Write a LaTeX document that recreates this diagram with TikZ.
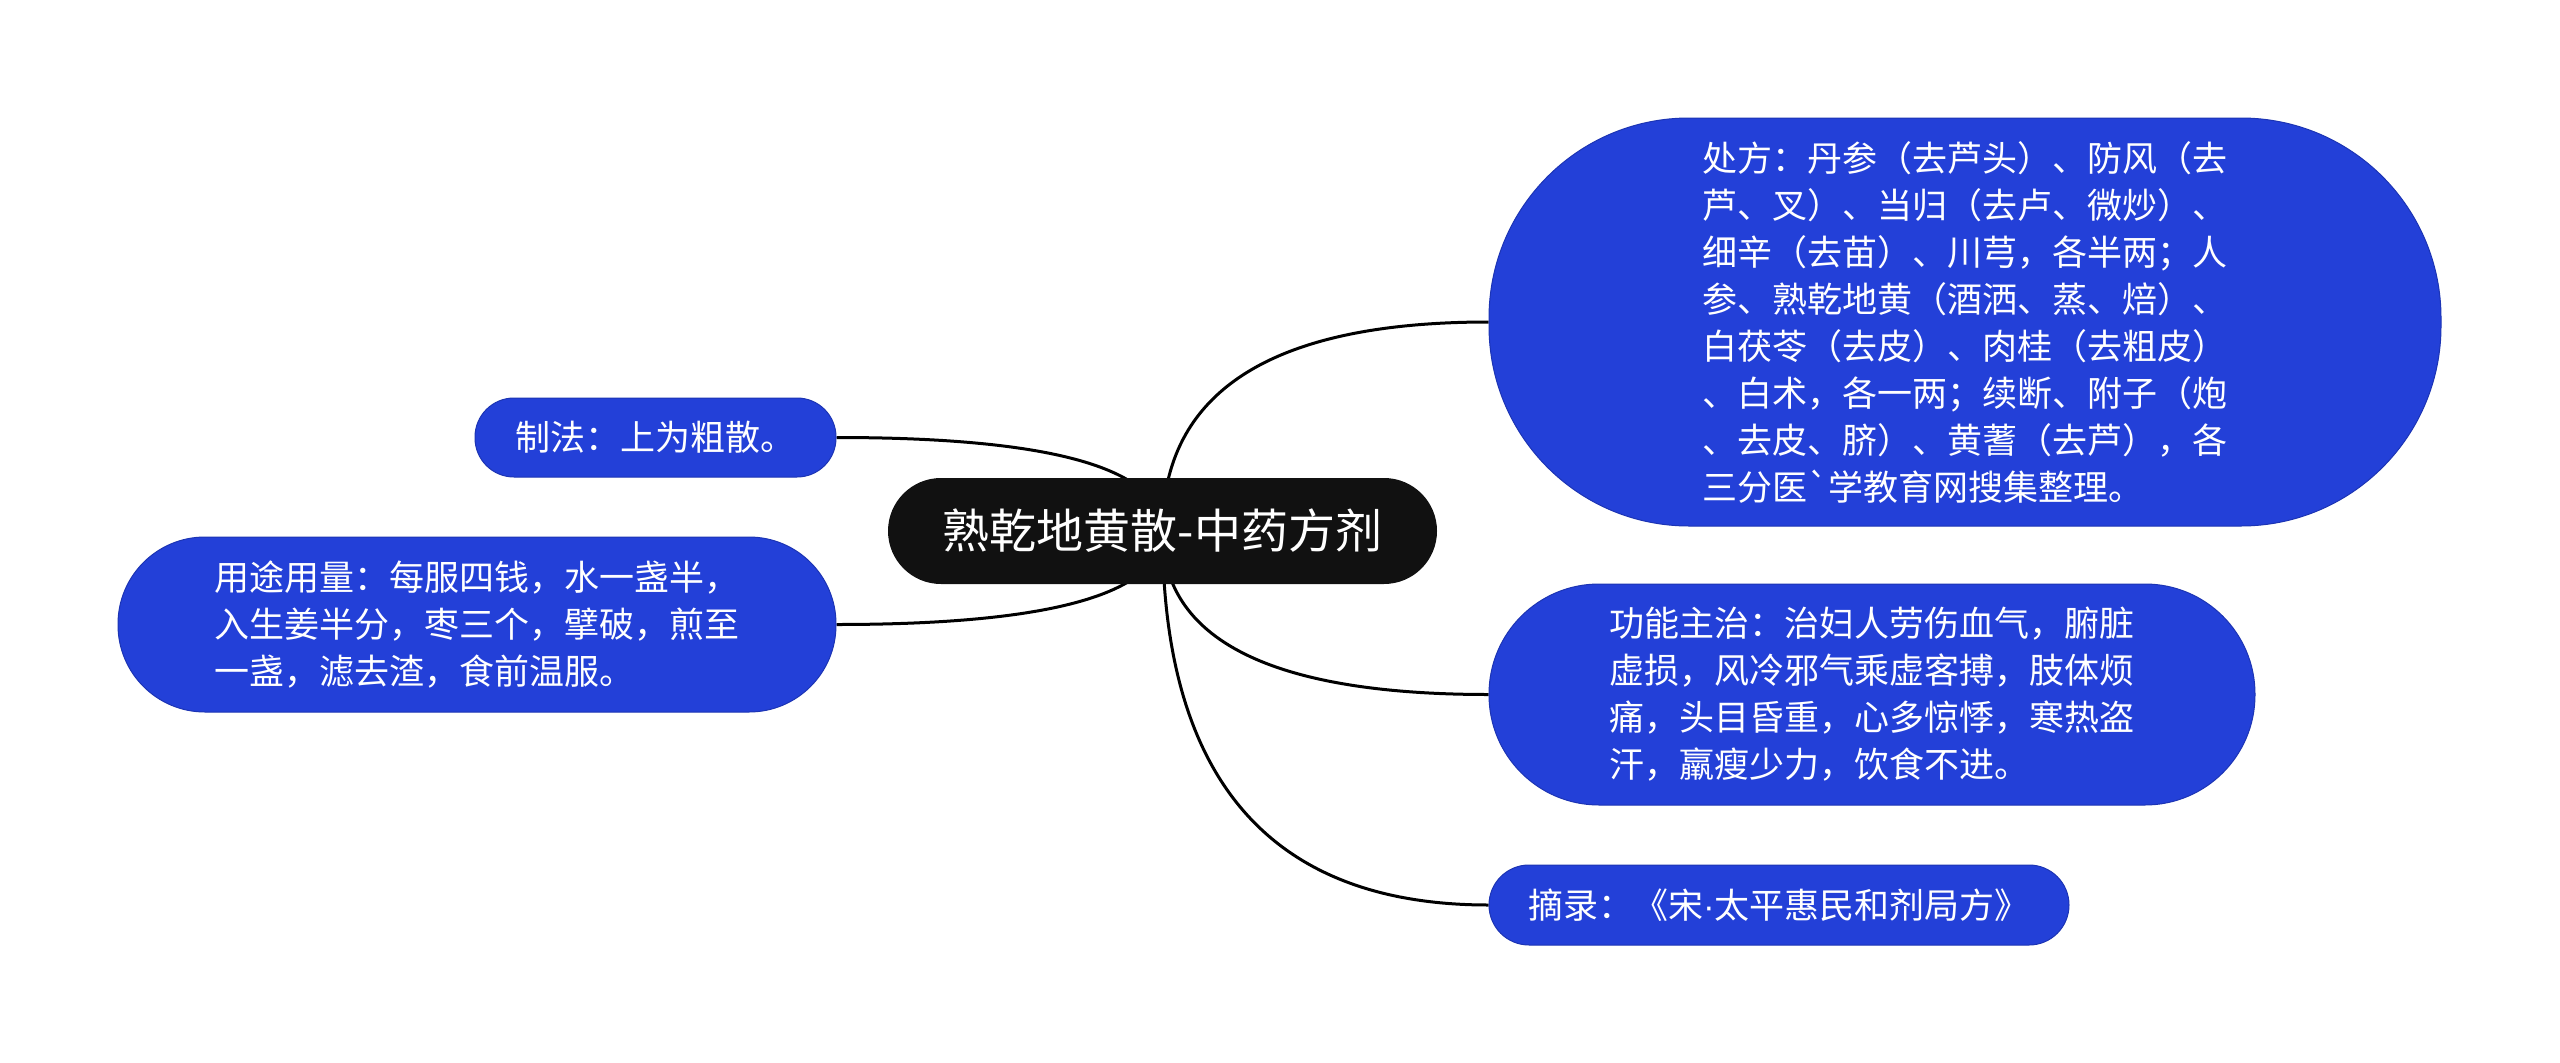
\documentclass[tikz,border=0pt]{standalone}
\usepackage{fontspec}
\newfontfamily\cjk{Noto Sans CJK SC}
\newfontfamily\latinfont{Liberation Sans}
\usetikzlibrary{calc,backgrounds}
\definecolor{nodeblue}{RGB}{35,64,216}
\definecolor{nodeedge}{RGB}{28,52,180}
\definecolor{rootblack}{RGB}{17,17,17}
\begin{document}
\begin{tikzpicture}[x=1pt,y=-1pt,
  leaf/.style={fill=nodeblue, draw=nodeedge, line width=1pt, text=white, inner sep=0pt, align=left, font=\cjk\fontsize{35}{47}\selectfont},
  root/.style={fill=rootblack, text=white, inner sep=0pt, font=\cjk\fontsize{47}{56}\selectfont, rounded corners=53pt, minimum width=549pt, minimum height=106pt},
  link/.style={line width=3pt, black}]
\useasboundingbox (0,0) rectangle (2560,1063);

\node[root] (c) at (1162.5,531) {熟乾地黄散-中药方剂};

\node[leaf, minimum width=952pt, minimum height=408pt, rounded corners=200pt] (p) at (1965,322)
 {处方：丹参（去芦头）、防风（去\\芦、叉）、当归（去卢、微炒）、\\细辛（去苗）、川芎，各半两；人\\参、熟乾地黄（酒洒、蒸、焙）、\\白茯苓（去皮）、肉桂（去粗皮）\\、白术，各一两；续断、附子（炮\\、去皮、脐）、黄蓍（去芦），各\\三分医`学教育网搜集整理。};

\node[leaf, minimum width=766pt, minimum height=221pt, rounded corners=110pt] (g) at (1872,694.5)
 {功能主治：治妇人劳伤血气，腑脏\\虚损，风冷邪气乘虚客搏，肢体烦\\痛，头目昏重，心多惊悸，寒热盗\\汗，羸瘦少力，饮食不进。};

\node[leaf, minimum width=580pt, minimum height=80pt, rounded corners=40pt] (z) at (1779,905)
 {摘录：《宋{\latinfont ·}太平惠民和剂局方》};

\node[leaf, minimum width=361pt, minimum height=79pt, rounded corners=39pt] (f) at (655.5,437.5)
 {制法：上为粗散。};

\node[leaf, minimum width=718pt, minimum height=175pt, rounded corners=87pt] (u) at (477,624.5)
 {用途用量：每服四钱，水一盏半，\\入生姜半分，枣三个，擘破，煎至\\一盏，滤去渣，食前温服。};

\begin{scope}[on background layer]
\fill[white] (0,0) rectangle (2560,1063);
\foreach \t/\a in {p/west, g/west, z/west, f/east, u/east}{
  \draw[link] (c.center) .. controls ($(c.center)!2/3!(c.center |- \t.\a)$) and ($(\t.\a)!2/3!(c.center |- \t.\a)$) .. (\t.\a);
}
\end{scope}
\end{tikzpicture}
\end{document}
